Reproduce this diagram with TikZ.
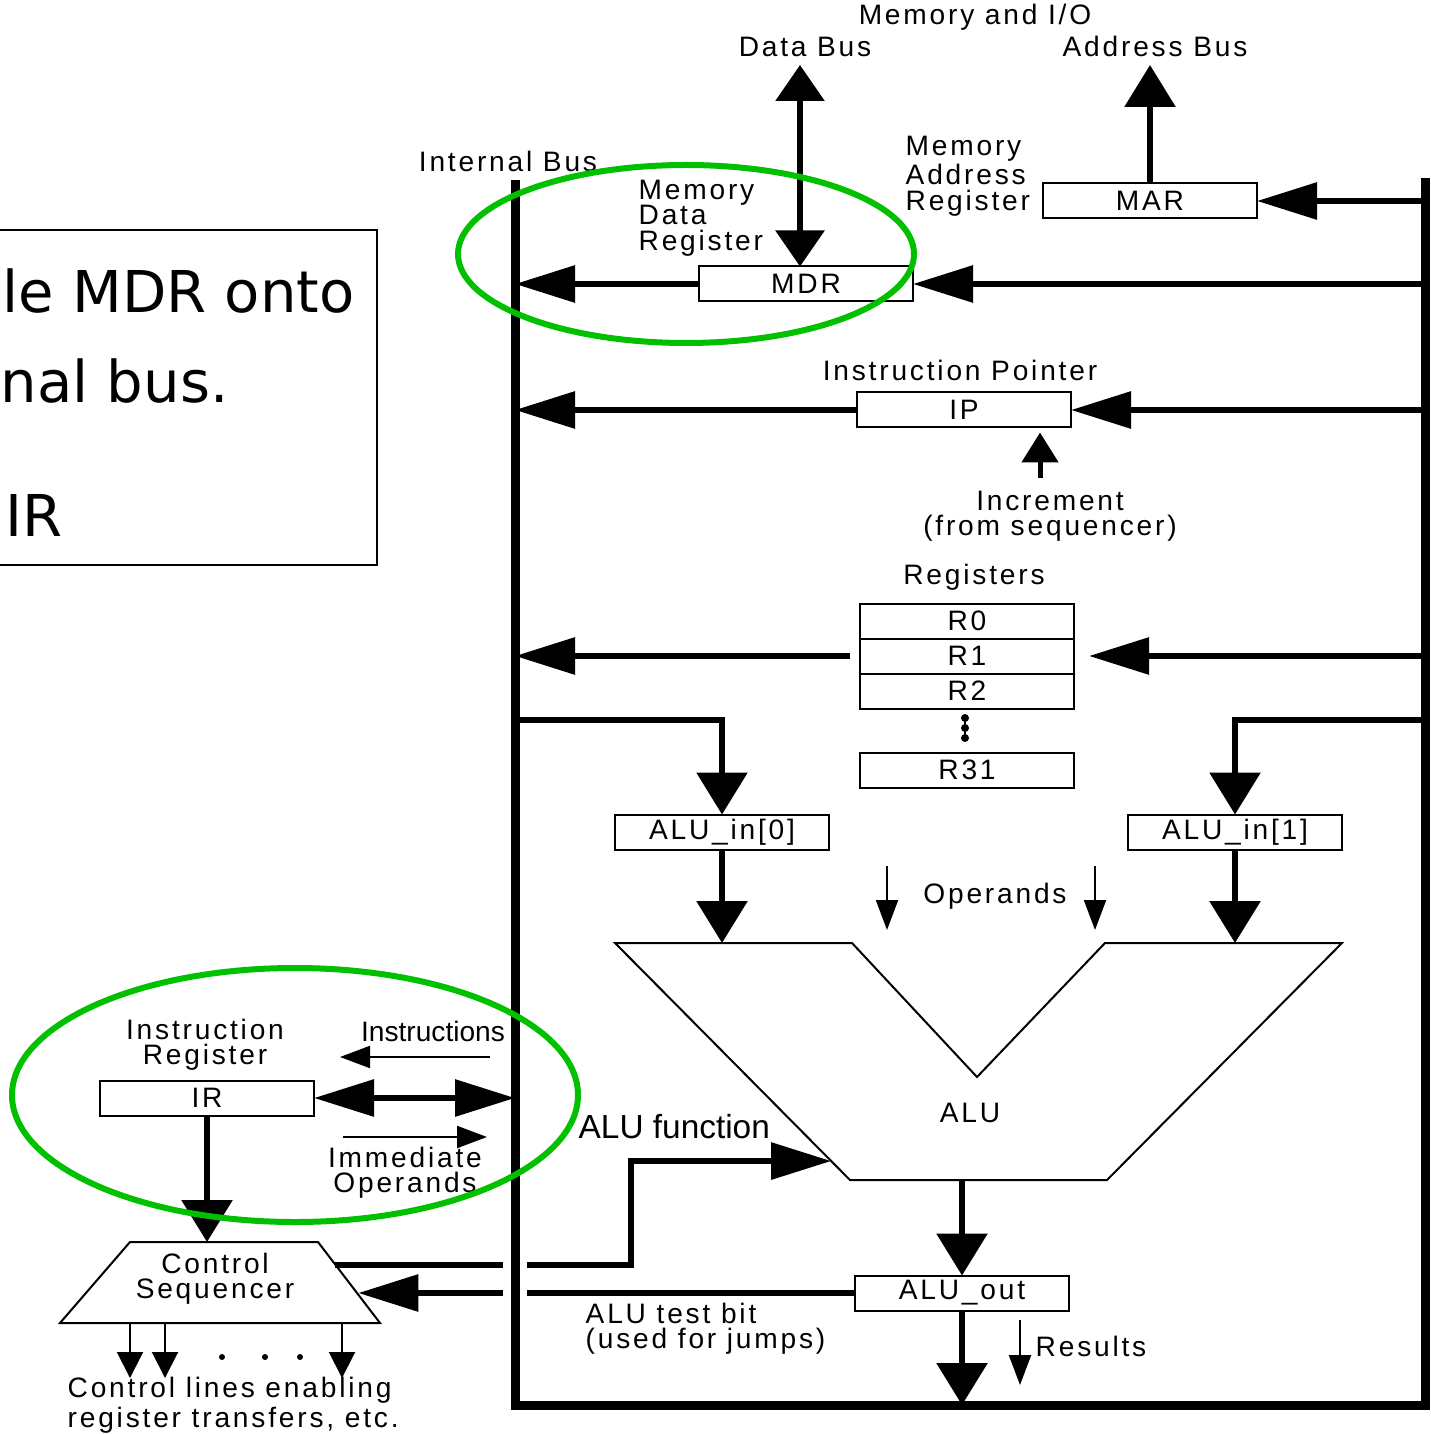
\documentclass[tikz,border=0pt]{standalone}
\usepackage{fontspec}
\newfontfamily\diagfont[LetterSpace=10]{Liberation Sans}
\newfontfamily\plainfont{Liberation Sans}
\newfontfamily\notefont{DejaVu Sans}
\usetikzlibrary{arrows.meta,positioning,calc}
\definecolor{ringgreen}{RGB}{0,192,0}
\tikzset{
  reg/.style={draw,line width=0.2mm,minimum width=21.4mm,minimum height=3.5mm,inner sep=0pt,outer sep=0pt},
  bus/.style={line width=0.9mm},
  wire/.style={line width=0.6mm},
  harrow/.style={wire,-{Triangle[length=6mm,width=3.6mm]}},
  dharrow/.style={wire,{Triangle[length=6mm,width=3.6mm]}-{Triangle[length=6mm,width=3.6mm]}},
  varrow/.style={wire,-{Triangle[length=4.2mm,width=5mm]}},
  dvarrow/.style={wire,{Triangle[length=3.6mm,width=4.8mm]}-{Triangle[length=3.6mm,width=4.8mm]}},
  thinarrow/.style={line width=0.2mm,-{Triangle[length=3mm,width=2.2mm]}},
  cline/.style={line width=0.2mm,-{Triangle[length=2.6mm,width=2.6mm]}},
  ring/.style={draw=ringgreen,line width=0.6mm}
}
\begin{document}
\begin{tikzpicture}[x=0.1mm,y=-0.1mm,font=\diagfont\fontsize{8}{7.2}\selectfont]
\useasboundingbox (0,0) rectangle (1430,1434);
% note box on the left
\draw[line width=0.2mm] (-20,230) rectangle (377,565);
\node[anchor=base west,inner sep=0pt,font=\notefont\fontsize{16.4}{19}\selectfont] (note1) at (2,313) {le MDR onto};
\node[anchor=base west,inner sep=0pt,font=\notefont\fontsize{16.4}{19}\selectfont] (note2) at (0,403) {nal bus.};
\node[anchor=base west,inner sep=0pt,font=\notefont\fontsize{16.4}{19}\selectfont] (note3) at (5,537) {IR};
% internal bus
\coordinate (bt) at (515,180);
\coordinate (bb) at (515,1405);
\coordinate (rb) at (1425,1405);
\coordinate (rt) at (1425,178);
\draw[bus] (bt) -- (bb) -- (rb) -- (rt);
% registers
\node[reg] (MAR) at (1150,201) {MAR};
\node[reg] (MDR) at (806,284) {MDR};
\node[reg] (IP) at (964,410) {IP};
\node[reg] (R0) at (967,621) {R0};
\node[reg,below=0pt of R0] (R1) {R1};
\node[reg,below=0pt of R1] (R2) {R2};
\node[reg] (R31) at (967,770) {R31};
\node[reg] (ain0) at (722,832) {ALU\_in[0]};
\node[reg] (ain1) at (1235,832) {ALU\_in[1]};
\node[reg] (aout) at (962,1293) {ALU\_out};
\node[reg] (IR) at (207,1098) {IR};
% control sequencer
\coordinate (s1) at (60,1323);
\coordinate (s2) at (130,1242);
\coordinate (s3) at (318,1242);
\coordinate (s4) at (380,1323);
\draw[line width=0.2mm] (s1) -- (s2) -- (s3) -- (s4) -- cycle;
\node[align=center] (seq) at (215,1279) {Control\\Sequencer};
% labels
\node (mio) at (975,17) {Memory and I/O};
\node (dbl) at (805,47) {Data Bus};
\node (abl) at (1155,46) {Address Bus};
\node (ibl) at (508,161) {Internal Bus};
\node[anchor=west,align=left,inner sep=0pt] (mdrl) at (638,218) {Memory\\Data\\Register};
\node[anchor=west,align=left,inner sep=0pt] (marl) at (905,176) {Memory\\Address\\Register};
\node (ipl) at (960,370) {Instruction Pointer};
\node[align=center] (incl) at (1050,516) {Increment\\(from sequencer)};
\node (rgl) at (974,577) {Registers};
\node (opl) at (995,896) {Operands};
\node (alul) at (970,1113) {ALU};
\node[anchor=west,inner sep=0pt,font=\plainfont\fontsize{9.5}{11}\selectfont] (afl) at (578,1127) {ALU function};
\node[anchor=west,align=left,inner sep=0pt] (tbl) at (585,1329) {ALU test bit\\(used for jumps)};
\node[anchor=west,inner sep=0pt] (resl) at (1035,1346) {Results};
\node[align=center] (irl) at (205,1045) {Instruction\\Register};
\node[font=\plainfont\fontsize{8}{7.2}\selectfont] (insl) at (433,1031) {Instructions};
\node[align=center] (iml) at (405,1173) {Immediate\\Operands};
\node[anchor=west,align=left,inner sep=0pt] (ctl) at (67,1405) {Control lines enabling\\register transfers, etc.};
% memory side
\coordinate (dtop) at (800,65);
\coordinate (atop) at (1150,65);
\draw[dvarrow] (dtop) -- (dtop |- MDR.north);
\draw[varrow] (MAR.north) -- (atop);
\draw[harrow] (MAR.east -| rt) -- (MAR.east);
\draw[harrow] (MDR.west) -- (MDR.west -| bt);
\draw[harrow] (MDR.east -| rt) -- (MDR.east);
\draw[harrow] (IP.west) -- (IP.west -| bt);
\draw[harrow] (IP.east -| rt) -- (IP.east);
\draw[line width=0.5mm,-{Triangle[length=3mm,width=3.6mm]},shorten >=0.5mm] ([xshift=-1mm]incl.north) -- ([xshift=-1mm]incl.north |- IP.south);
% register file
\draw[harrow] ([xshift=-1mm]R1.west) -- (R1.west -| bt);
\draw[harrow] (R1.east -| rt) -- ([xshift=1.5mm]R1.east);
\draw[line width=0.25mm] (965,718) -- (965,738);
\foreach \y in {718,728,738} \fill (965,\y) circle (0.4mm);
% ALU
\coordinate (tapL) at (515,720);
\coordinate (tapR) at (1425,720);
\coordinate (u1) at (615,943);
\coordinate (u2) at (852,943);
\coordinate (u3) at (977,1077);
\coordinate (u4) at (1105,943);
\coordinate (u5) at (1342,943);
\coordinate (u6) at (1107,1180);
\coordinate (u7) at (850,1180);
\draw[line width=0.2mm] (u1) -- (u2) -- (u3) -- (u4) -- (u5) -- (u6) -- (u7) -- cycle;
\draw[varrow] (tapL) -| (ain0.north);
\draw[varrow] (tapR) -| (ain1.north);
\draw[varrow] (ain0.south) -- (ain0.south |- u1);
\draw[varrow] (ain1.south) -- (ain1.south |- u5);
\draw[thinarrow] ([xshift=-10.8mm,yshift=3mm]opl.center) -- ++(0,64);
\draw[thinarrow] ([xshift=10mm,yshift=3mm]opl.center) -- ++(0,64);
\draw[varrow] (aout.north |- u7) -- (aout.north);
\draw[varrow] (aout.south) -- (aout.south |- bb);
\draw[thinarrow] ([xshift=-1.5mm,yshift=2.6mm]resl.west) -- ++(0,65);
% sequencer links
\coordinate (gR) at (527,1293);
\coordinate (gL) at (503,1293);
\coordinate (seqin) at ($(s3)!0.65!(s4)$);
\coordinate (seqout) at ($(s3)!0.28!(s4)$);
\coordinate (fin) at ($(u1)!0.92!(u7)$);
\draw[wire] (aout.west) -- (gR);
\draw[harrow] (gL) -- (gL -| seqin);
\draw[wire] (seqout) -- (seqout -| gL);
\draw[harrow] (seqout -| gR) -| ($(fin)+(-200,0)$) -- (fin);
\draw[dharrow] (IR.east) -- (IR.east -| bt);
\draw[varrow] (IR.south) -- (IR.south |- s2);
\draw[thinarrow] ([xshift=5.7mm,yshift=-2.6mm]insl.center) -- ++(-150,0);
\draw[thinarrow] ([xshift=-6.2mm,yshift=3.6mm]iml.center) -- ++(144,0);
\foreach \x in {130,165,342} \draw[cline] (\x,1323) -- (\x,1378);
\foreach \x in {222,265,300} \fill (\x,1357) circle (0.3mm);
% highlight rings
\draw[ring] (686,254) ellipse [x radius=228, y radius=89];
\draw[ring] (295,1095) ellipse [x radius=283, y radius=127];
\end{tikzpicture}
\end{document}
